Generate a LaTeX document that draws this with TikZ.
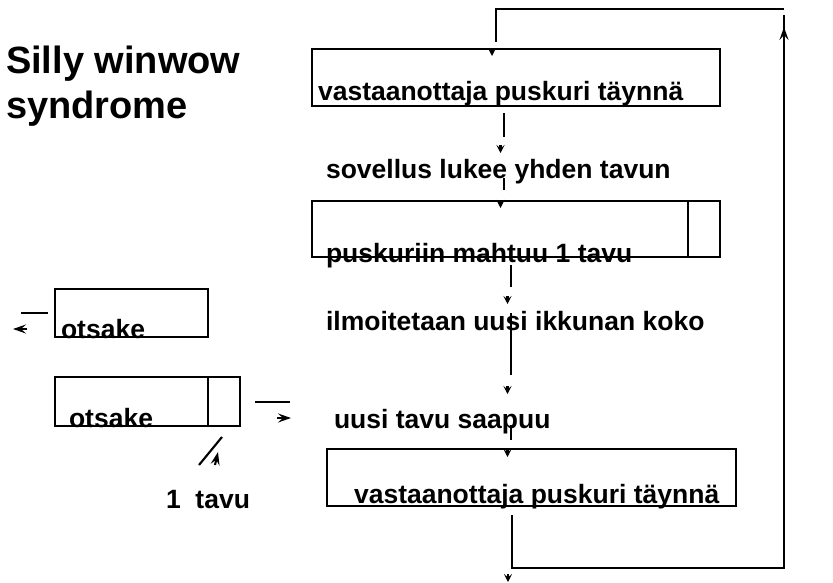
\documentclass[tikz,border=0pt]{standalone}
\usepackage{fontspec}
\setmainfont{Liberation Sans}
\usetikzlibrary{arrows.meta}
\begin{document}
\begin{tikzpicture}[x=1pt,y=-1pt,line width=2.1pt,
 box/.style={draw,rectangle,inner sep=0pt,outer sep=0pt},
 lbl/.style={anchor=base west,inner sep=0pt,font=\bfseries\fontsize{26.5}{30}\selectfont},
 head/.style={-{Stealth[length=8pt,width=8pt,inset=3.5pt]}},
 longhead/.style={-{Stealth[length=13pt,width=9pt,inset=5pt]}}]
\useasboundingbox (0,0) rectangle (833,582);
\node[lbl,font=\bfseries\fontsize{38}{45}\selectfont] (silly) at (5,73) {Silly winwow};
\node[lbl,font=\bfseries\fontsize{38}{45}\selectfont] (syndrome) at (5,118) {syndrome};
% buffers
\node[box,minimum width=408,minimum height=57] (full1) at (516,77.5) {};
\node[box,minimum width=408,minimum height=56] (room) at (516,229) {};
\draw ([xshift=-32pt]room.north east) -- ([xshift=-32pt]room.south east);
\node[box,minimum width=409,minimum height=57] (full2) at (531.5,477.5) {};
\node[lbl] (t1) at (317,100) {vastaanottaja puskuri täynnä};
\node[lbl] (t2) at (325,178) {sovellus lukee yhden tavun};
\node[lbl] (t3) at (325,262) {puskuriin mahtuu 1 tavu};
\node[lbl] (t4) at (325,330) {ilmoitetaan uusi ikkunan koko};
\node[lbl] (t5) at (333,428) {uusi tavu saapuu};
\node[lbl] (t6) at (353,503) {vastaanottaja puskuri täynnä};
% segments
\node[box,minimum width=153,minimum height=48] (hdr1) at (131.5,313) {};
\node[box,minimum width=185,minimum height=49] (hdr2) at (147.5,401.5) {};
\draw ([xshift=-32pt]hdr2.north east) -- ([xshift=-32pt]hdr2.south east);
\node[lbl] (o1) at (60,338) {otsake};
\node[lbl] (o2) at (68,427) {otsake};
\node[lbl] (tavu) at (165,508) {1~~tavu};
% steps
\foreach \x/\ya/\yb/\yc in {504/113/137/153,504/178/190/208,511/265/287/304,511/313/375/394,511/425/440/457}{
 \draw (\x,\ya) -- (\x,\yb);
 \draw[head] (\x-3.5,\yc-8) -- (\x-3.5,\yc);}
% loop back
\draw (784,9) -- (496,9) -- (496,42);
\draw[head] (492,48) -- (492,56);
\draw (512,515) |- (784,568) -- (784,15);
\draw[longhead] (784,40) -- (784,27);
\draw[head] (508,574) -- (508,582);
% send and receive
\draw (21,313) -- (48,313);
\draw[longhead] (27,329) -- (13,329);
\draw (255,402) -- (290,402);
\draw[longhead] (277,418) -- (291,418);
\draw (199,465) -- (222,437);
\draw[longhead] (215,465) -- (218,452);
\end{tikzpicture}
\end{document}
